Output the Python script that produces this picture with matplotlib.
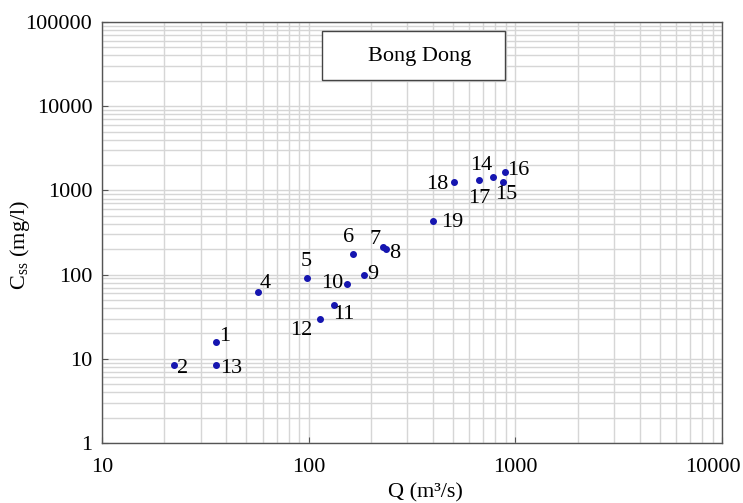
import matplotlib
matplotlib.use('Agg')
import matplotlib.pyplot as plt
import matplotlib.transforms as mtransforms
from matplotlib.patches import Rectangle
from matplotlib.ticker import LogLocator, FixedLocator, NullFormatter

plt.rcParams['font.family'] = ['Liberation Serif', 'DejaVu Serif']
plt.rcParams['mathtext.fontset'] = 'custom'
plt.rcParams['mathtext.rm'] = 'Liberation Serif'

# 流量 Q (m3/s) 和 悬浮泥沙浓度 Css (mg/l)
labels = ['1', '2', '4', '5', '6', '7', '8', '9', '10', '11', '12', '13',
          '14', '15', '16', '17', '18', '19']
Q = [35.5, 22.3, 57.1, 97.8, 164, 229, 237, 185, 153, 132, 113, 35.5,
     777, 874, 891, 669, 503, 401]
Css = [16.0, 8.4, 62.7, 90.4, 176, 213, 201, 98.9, 76.7, 43.9, 29.5, 8.4,
       1443, 1258, 1655, 1330, 1258, 433]

xticks = [10, 100, 1000, 10000]
yticks = [1, 10, 100, 1000, 10000, 100000]

# label offsets in pixels (dx right, dy down)
offs = {'1': (9, -5), '2': (9, 3), '4': (7, -8), '5': (0, -17), '6': (-5, -16),
        '7': (-8, -7), '8': (9, 4), '9': (9, 0), '10': (-15, -1), '11': (10, 10),
        '12': (-18, 11), '13': (15, 3), '14': (-11, -11), '15': (3, 13),
        '16': (13, -1), '17': (0, 19), '18': (-16, 3), '19': (19, 2)}

fig = plt.figure(figsize=(7.43, 5.03), dpi=100)
ax = fig.add_axes([0.1373, 0.1193, 0.9717 - 0.1373, 0.9563 - 0.1193])
ax.set_xscale('log')
ax.set_yscale('log')
ax.set_xlim(10, 10000)
ax.set_ylim(1, 100000)

ax.xaxis.set_major_locator(FixedLocator(xticks))
ax.yaxis.set_major_locator(FixedLocator(yticks))
ax.set_xticklabels([str(t) for t in xticks])
ax.set_yticklabels([str(t) for t in yticks])
ax.xaxis.set_minor_locator(LogLocator(base=10, subs=range(2, 10)))
ax.yaxis.set_minor_locator(LogLocator(base=10, subs=range(2, 10)))
ax.xaxis.set_minor_formatter(NullFormatter())
ax.yaxis.set_minor_formatter(NullFormatter())

ax.grid(which='both', color='#d6d6d6', linewidth=1.0)
ax.set_axisbelow(True)
ax.tick_params(which='major', direction='in', length=4, width=0.8, color='#555555',
               labelsize=16)
ax.tick_params(axis='y', which='major', pad=7)
ax.tick_params(axis='x', which='major', pad=11)
ax.tick_params(which='minor', length=0)
for s in ax.spines.values():
    s.set_color('#555555')
    s.set_linewidth(1.0)

# shift the last x label a bit to the left so it stays in the figure
last = ax.xaxis.get_major_ticks()[-1].label1
last.set_transform(last.get_transform() +
                   mtransforms.ScaledTranslation(-9 / 100, 0, fig.dpi_scale_trans))

ax.scatter(Q, Css, s=16, color='#1515b0', zorder=3)
for lab, x, y in zip(labels, Q, Css):
    dx, dy = offs[lab]
    ax.annotate(lab, (x, y), xytext=(dx, -dy), textcoords='offset pixels',
                ha='center', va='center', fontsize=16, zorder=4)

ax.add_patch(Rectangle((0.355, 0.862), 0.295, 0.117, transform=ax.transAxes,
                       facecolor='white', edgecolor='#444444', linewidth=1.0,
                       zorder=5))
ax.text(0.513, 0.919, 'Bong Dong', transform=ax.transAxes, ha='center', va='center',
        fontsize=16, zorder=6)

ax.set_xlabel('Q (m³/s)', fontsize=16, va='center')
ax.set_ylabel(r'C$_{\mathrm{ss}}$ (mg/l)', fontsize=16, va='center')
ax.xaxis.set_label_coords(0.522, -0.119)
ax.yaxis.set_label_coords(-0.132, 0.470)

fig.savefig('out.png', dpi=100)
